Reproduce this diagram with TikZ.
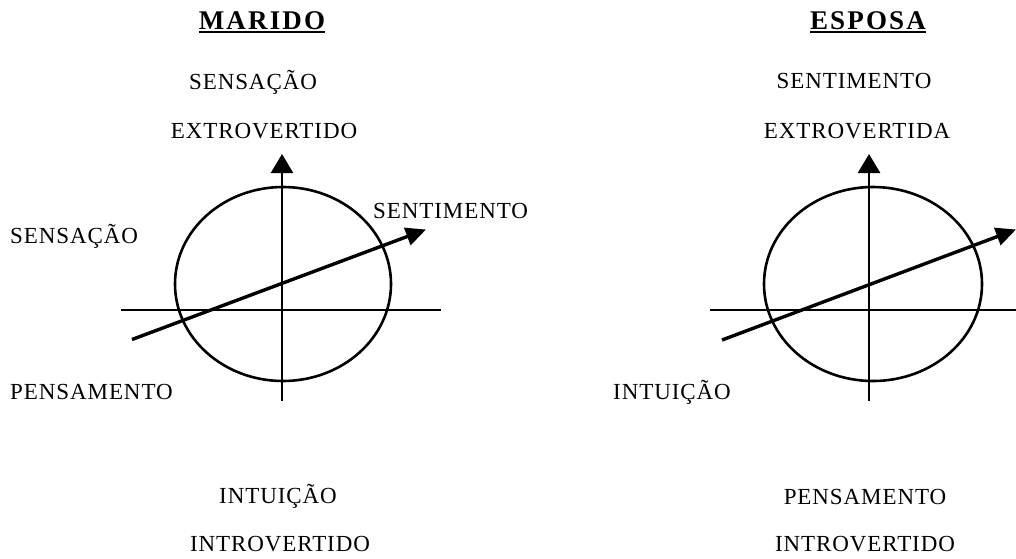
\documentclass[tikz,border=0pt]{standalone}
\usepackage{fontspec}
\setmainfont{Liberation Serif}
\newfontfamily\wordfont[LetterSpace=4]{Liberation Serif}
\newfontfamily\headfont[LetterSpace=8]{Liberation Serif}
\usetikzlibrary{arrows.meta,positioning}

\begin{document}
\begin{tikzpicture}[x=1pt,y=-1pt,>={Triangle[length=19pt,width=22pt]}]
\tikzstyle{word}=[font=\wordfont\fontsize{23}{27}\selectfont,inner sep=0pt,anchor=base]
\tikzstyle{head}=[font=\headfont\bfseries\fontsize{27}{31}\selectfont,inner sep=0pt,anchor=base]
\tikzstyle{axis}=[line width=2.6pt]
\tikzstyle{ring}=[line width=2.6pt]
\tikzstyle{pointer}=[line width=3.4pt,-{Triangle[length=20pt,width=18pt]}]

\useasboundingbox (0,0) rectangle (1016,558);
\clip (0,0) rectangle (1016,558);

% marido
\node[head]		(marido)   at (262,29)  {MARIDO};
\node[word]		(msens)    at (253,89)  {SENSAÇÃO};
\node[word]		(mextro)   at (264,138) {EXTROVERTIDO};
\node[word,anchor=base west]	(msensl)   at (10,243)  {SENSAÇÃO};
\node[word,anchor=base west]	(msent)    at (373,218) {SENTIMENTO};
\node[word,anchor=base west]	(mpens)    at (10,399)  {PENSAMENTO};
\node[word]		(mintu)    at (278,503) {INTUIÇÃO};
\node[word]		(mintro)   at (280,551) {INTROVERTIDO};

\coordinate (mtop)   at (282,154);
\coordinate (mbot)   at (282,401);
\coordinate (mleft)  at (121,310);
\coordinate (mright) at (441,310);
\coordinate (mfrom)  at (132,339.5);
\coordinate (mto)    at (426,229.5);
\coordinate (mmid)   at (283,284);

\draw[line width=1.5pt] ([yshift=-3pt]marido.base west) -- ([yshift=-3pt]marido.base east);
\draw[ring] (mmid) ellipse [x radius=108, y radius=97];
\draw[axis] (mleft) -- (mright);
\draw[axis,->] (mbot) -- (mtop);
\draw[pointer] (mfrom) -- (mto);

% esposa
\node[head]		(esposa)   at (868,29)  {ESPOSA};
\node[word]		(esent)    at (854,88)  {SENTIMENTO};
\node[word]		(eextro)   at (857,138) {EXTROVERTIDA};
\node[word,anchor=base west]	(eintul)   at (613,399) {INTUIÇÃO};
\node[word]		(epens)    at (865,504) {PENSAMENTO};
\node[word]		(eintro)   at (865,551) {INTROVERTIDO};

\coordinate (etop)   at (869,154);
\coordinate (ebot)   at (869,401);
\coordinate (eleft)  at (710,310);
\coordinate (eright) at (1030,310);
\coordinate (efrom)  at (722,340);
\coordinate (eto)    at (1016,229.5);
\coordinate (emid)   at (873,284);

\draw[line width=1.5pt] ([yshift=-3pt]esposa.base west) -- ([yshift=-3pt]esposa.base east);
\draw[ring] (emid) ellipse [x radius=109, y radius=97];
\draw[axis] (eleft) -- (eright);
\draw[axis,->] (ebot) -- (etop);
\draw[pointer] (efrom) -- (eto);
\end{tikzpicture}
\end{document}
